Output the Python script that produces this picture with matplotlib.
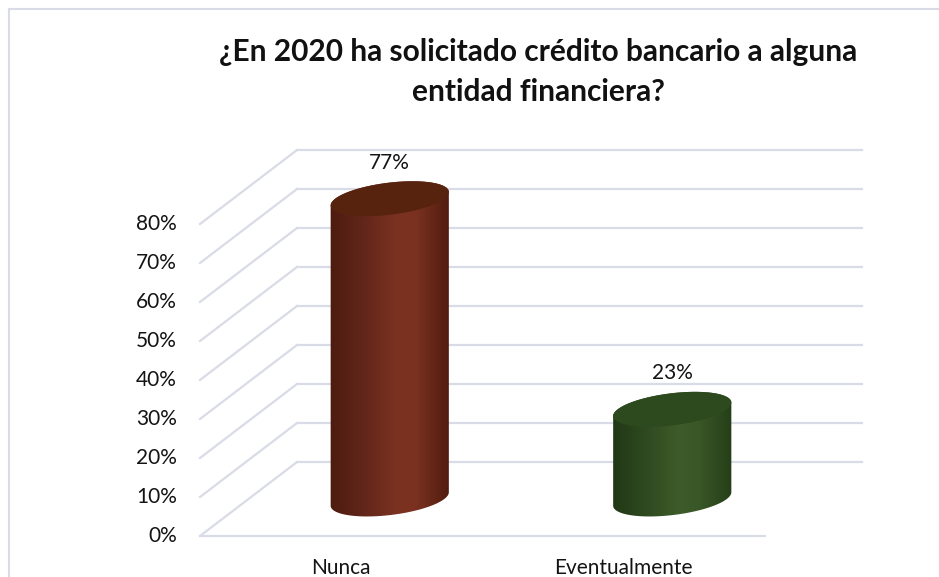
import numpy as np
import matplotlib
matplotlib.use("Agg")
import matplotlib.pyplot as plt
from matplotlib.colors import LinearSegmentedColormap
from matplotlib.patches import Polygon
from matplotlib.lines import Line2D

# ---------------- data ----------------
title = "¿En 2020 ha solicitado crédito bancario a alguna\nentidad financiera?"
categories = ["Nunca", "Eventualmente"]
values = [0.77, 0.23]
value_labels = ["77%", "23%"]
ticks = [0.0, 0.1, 0.2, 0.3, 0.4, 0.5, 0.6, 0.7, 0.8]
tick_labels = ["0%", "10%", "20%", "30%", "40%", "50%", "60%", "70%", "80%"]

# ---------------- style ----------------
FONT = "Lato"
W, H = 939, 577
GRID = "#d9dce6"
TXT = "#141414"
body_colors = [
    ["#4a1a0e", "#62261a", "#7b3221", "#7a3120", "#4a190d"],
    ["#1f3614", "#2f4a20", "#3e5c2a", "#3a5727", "#213a16"],
]
top_colors = ["#57230f", "#2d4a1e"]

fig = plt.figure(figsize=(W / 100, H / 100), dpi=100)
fig.patch.set_facecolor("white")

# front plane of the 3D box, in pixel layout
x0_px, x1_px = 200, 765
y0_px, y1_px = 536, 224
ax = fig.add_axes([x0_px / W, (H - y0_px) / H, (x1_px - x0_px) / W, (y0_px - y1_px) / H])
ax.set_xlim(0, len(categories))
ax.set_ylim(0, ticks[-1])
ax.axis("off")

sx = len(categories) / (x1_px - x0_px)   # data per pixel
sy = ticks[-1] / (y0_px - y1_px)
DX, DY = 97 * sx, 74 * sy                # depth vector

# ---- gridlines (side wall + back wall) ----
for v in ticks:
    ax.add_line(Line2D([0, DX], [v, v + DY], color=GRID, lw=1.6, clip_on=False, zorder=1))
    ax.add_line(Line2D([DX, len(categories) + DX], [v + DY, v + DY], color=GRID, lw=1.6,
                       clip_on=False, zorder=1))
ax.add_line(Line2D([0, len(categories)], [0, 0], color=GRID, lw=1.6, clip_on=False, zorder=1))

# ---- tick labels ----
for v, lab in zip(ticks, tick_labels):
    ax.annotate(lab, (0, v), xytext=(-23, 0), textcoords="offset pixels",
                ha="right", va="center", fontsize=15, family=FONT, color=TXT)

# ---- category labels ----
for i, c in enumerate(categories):
    ax.annotate(c, (i + 0.5, 0), xytext=(0, -32), textcoords="offset pixels",
                ha="center", va="center", fontsize=15, family=FONT, color=TXT)

# ---- cylinders ----
a_px, b_px, th = 59.5, 16.0, np.deg2rad(7)
A = np.array([a_px * np.cos(th) * sx, a_px * np.sin(th) * sy])
B = np.array([-b_px * np.sin(th) * sx, b_px * np.cos(th) * sy])
t0 = np.arctan2(B[0], A[0])


def ell(c, t):
    return np.column_stack([c[0] + np.cos(t) * A[0] + np.sin(t) * B[0],
                            c[1] + np.cos(t) * A[1] + np.sin(t) * B[1]])


for i, v in enumerate(values):
    cb = np.array([i + 0.5 + DX / 2, DY / 2])
    ct = np.array([i + 0.5 + DX / 2, v + DY / 2])
    lower = ell(cb, np.linspace(t0 + np.pi, t0 + 2 * np.pi, 120))
    upper = ell(ct, np.linspace(t0, t0 + np.pi, 120))
    body = Polygon(np.vstack([lower, upper]), closed=True, facecolor="none",
                   edgecolor="none", clip_on=False)
    ax.add_patch(body)
    cmap = LinearSegmentedColormap.from_list(
        "c%d" % i, list(zip([0, 0.3, 0.55, 0.7, 1.0], body_colors[i])))
    xl = cb[0] - np.abs(A[0]) - 0.02
    xr = cb[0] + np.abs(A[0]) + 0.02
    grad = np.linspace(0, 1, 256)[None, :]
    im = ax.imshow(grad, cmap=cmap, aspect="auto",
                   extent=[xl, xr, cb[1] - 0.1, ct[1] + 0.1], zorder=3, interpolation="bilinear")
    im.set_clip_box(fig.bbox)
    im.set_clip_path(body)
    topc = ell(ct, np.linspace(0, 2 * np.pi, 200))
    ax.add_patch(Polygon(topc, closed=True, facecolor=top_colors[i], edgecolor="none",
                         zorder=4, clip_on=False))
    top_y = ct[1] + b_px * sy
    ax.annotate(value_labels[i], (ct[0], top_y), xytext=(0, 20), textcoords="offset pixels",
                ha="center", va="center", fontsize=15, family=FONT, color=TXT,
                annotation_clip=False)

ax.set_xlim(0, len(categories))
ax.set_ylim(0, ticks[-1])

# ---- title ----
fig.text(538 / W, 1 - 72 / H, title, ha="center", va="center", fontsize=21.5,
         fontweight="bold", family=FONT, color="#111111", linespacing=1.55)

# ---- chart frame ----
fig.add_artist(Line2D([9 / W, 9 / W], [0, 1 - 9 / H], color=GRID, lw=1.5))
fig.add_artist(Line2D([9 / W, 1], [1 - 9 / H, 1 - 9 / H], color=GRID, lw=1.5))

fig.savefig("out.png", dpi=100, facecolor="white")
